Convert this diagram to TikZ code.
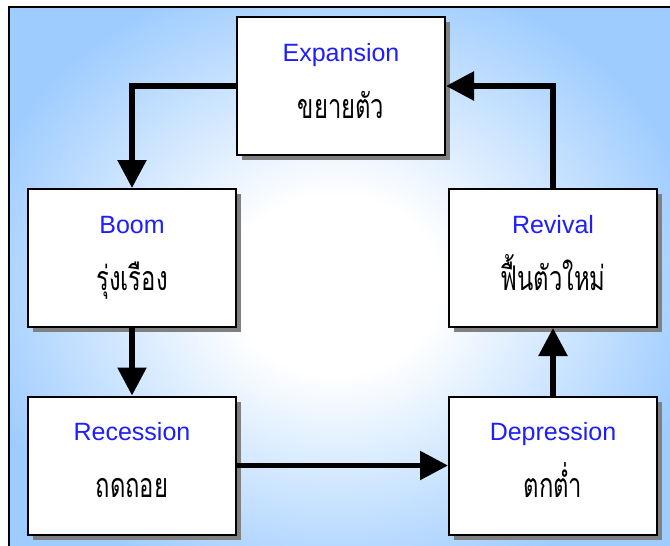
\documentclass[tikz,border=0pt]{standalone}
\usepackage{fontspec}
\setmainfont{Liberation Sans}
\newfontfamily\thaifont[Script=Thai]{Loma}
\usetikzlibrary{arrows.meta,shadows}
\definecolor{bgblue}{RGB}{158,204,255}
\definecolor{titleblue}{RGB}{30,30,255}
\pgfdeclareradialshading{glow}{\pgfpoint{0bp}{0bp}}{color(0bp)=(white); color(7bp)=(white); color(25bp)=(bgblue); color(50bp)=(bgblue)}
\tikzset{
  box/.style={draw=black, line width=2pt, fill=white, minimum width=208pt, minimum height=138pt, inner sep=0pt,
    drop shadow={shadow xshift=5pt, shadow yshift=-5pt, fill=black!50, opacity=1}},
  titletext/.style={anchor=base, text=titleblue, font=\fontsize{25}{30}\selectfont, inner sep=0pt},
  thaitext/.style={anchor=base, text=black, font=\thaifont\fontsize{34}{40}\selectfont, inner sep=0pt, xscale=0.7, text height=18pt, text depth=4pt},
  arr/.style={line width=5.5pt, -{Triangle[length=28pt,width=28pt]}},
  frame/.style={line width=1.5pt, black}
}
\begin{document}
\begin{tikzpicture}[x=1pt,y=1pt]
\useasboundingbox (0,0) rectangle (670,-546);
\begin{scope}
  \clip (9,-7) rectangle (670,-546);
  \fill[bgblue] (9,-7) rectangle (670,-546);
  \shade[shading=glow] (335,-285) ellipse (370 and 320);
\end{scope}
\draw[frame] (9,-546) -- (9,-7) -- (670,-7);

\node[box] (exp) at (341,-86) {};
\node[box] (boom) at (132,-258) {};
\node[box] (rec) at (132,-465.5) {};
\node[box] (rev) at (553,-258) {};
\node[box] (dep) at (553,-465.5) {};

\node[titletext] (expA) at ([yshift=-45pt]exp.north) {Expansion};
\node[thaitext] (expB) at ([yshift=-102pt]exp.north) {ขยายตัว};
\node[titletext] (boomA) at ([yshift=-45pt]boom.north) {Boom};
\node[thaitext] (boomB) at ([yshift=-102pt]boom.north) {รุ่งเรือง};
\node[titletext] (recA) at ([yshift=-45pt]rec.north) {Recession};
\node[thaitext] (recB) at ([yshift=-102pt]rec.north) {ถดถอย};
\node[titletext] (revA) at ([yshift=-45pt]rev.north) {Revival};
\node[thaitext] (revB) at ([yshift=-102pt]rev.north) {ฟื้นตัวใหม่};
\node[titletext] (depA) at ([yshift=-45pt]dep.north) {Depression};
\node[thaitext] (depB) at ([yshift=-102pt]dep.north) {ตกต่ำ};

\draw[arr] (exp.west) -| (boom.north);
\draw[arr] (boom.south) -- (rec.north);
\draw[arr] (rec.east) -- (dep.west);
\draw[arr] (dep.north) -- (rev.south);
\draw[arr] (rev.north) |- (exp.east);
\end{tikzpicture}
\end{document}
